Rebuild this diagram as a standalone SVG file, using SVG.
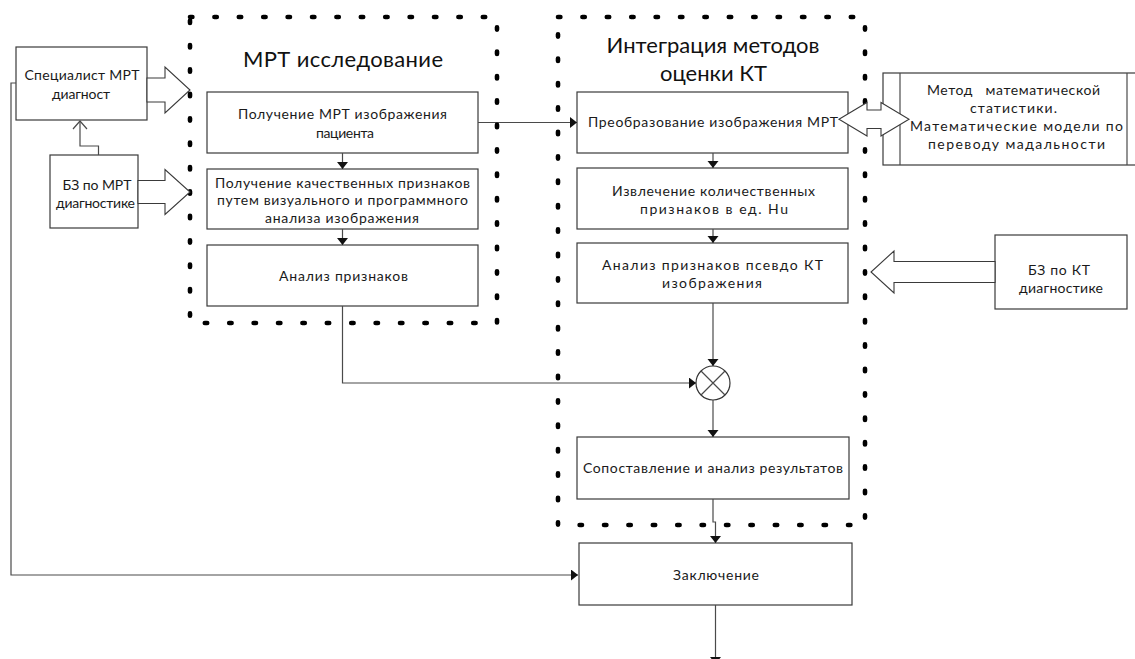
<svg xmlns="http://www.w3.org/2000/svg" width="1135" height="659" viewBox="0 0 1135 659">
<style>
text{font-family:Lato,"Liberation Sans",sans-serif;font-size:14px;font-weight:400;fill:#1a1a1a;text-anchor:middle}
.t{font-size:22px;fill:#111}
.box{fill:#fff;stroke:#3a3a3a;stroke-width:1.2}
.ln{fill:none;stroke:#4a4a4a;stroke-width:1.2}
.fr{fill:none;stroke:#000;stroke-width:4.6;stroke-linecap:round;stroke-dasharray:2.4 22}
.ba{fill:#fff;stroke:#3a3a3a;stroke-width:1.1;stroke-linejoin:miter}
</style>
<defs>
<marker id="ah" markerUnits="userSpaceOnUse" markerWidth="8" markerHeight="12" refX="7" refY="5.5" orient="auto">
<path d="M0,0 L7,5.5 L0,11 z" fill="#111"/>
</marker>
</defs>
<rect width="1135" height="659" fill="#fff"/>

<g id="spec">
<rect class="box" x="16" y="47" width="131" height="73"/>
<text x="82" y="79.5" textLength="115" lengthAdjust="spacing">Специалист МРТ</text>
<text x="81" y="98.5" textLength="58" lengthAdjust="spacing">диагност</text>
</g>
<g id="bz-mrt">
<rect class="box" x="50" y="155" width="88" height="73"/>
<text x="97" y="189.5" textLength="69" lengthAdjust="spacing">БЗ по МРТ</text>
<text x="95.5" y="208" textLength="79" lengthAdjust="spacing">диагностике</text>
</g>
<g id="mrt1">
<rect class="box" x="207" y="92" width="271" height="61"/>
<text x="342.5" y="118.5" textLength="209" lengthAdjust="spacing">Получение МРТ изображения</text>
<text x="345" y="137.5" textLength="58" lengthAdjust="spacing">пациента</text>
</g>
<g id="mrt2">
<rect class="box" x="207" y="169" width="271" height="60"/>
<text x="342.5" y="187.5" textLength="255" lengthAdjust="spacing">Получение качественных признаков</text>
<text x="342.5" y="205" textLength="251" lengthAdjust="spacing">путем визуального и программного</text>
<text x="342" y="222.5" textLength="154" lengthAdjust="spacing">анализа изображения</text>
</g>
<g id="mrt3">
<rect class="box" x="207" y="245" width="271" height="61"/>
<text x="343.5" y="280.5" textLength="129" lengthAdjust="spacing">Анализ признаков</text>
</g>
<g id="kt1">
<rect class="box" x="577" y="92" width="271" height="61"/>
<text x="713" y="127" textLength="250" lengthAdjust="spacing">Преобразование изображения МРТ</text>
</g>
<g id="kt2">
<rect class="box" x="577" y="168" width="271" height="61"/>
<text x="713.5" y="196" textLength="203" lengthAdjust="spacing">Извлечение количественных</text>
<text x="714" y="214" textLength="148" lengthAdjust="spacing">признаков в ед. Hu</text>
</g>
<g id="kt3">
<rect class="box" x="577" y="243" width="271" height="60"/>
<text x="712.5" y="270" textLength="221" lengthAdjust="spacing">Анализ признаков псевдо КТ</text>
<text x="712" y="288" textLength="100" lengthAdjust="spacing">изображения</text>
</g>
<g id="compare">
<rect class="box" x="577" y="437" width="272" height="62"/>
<text x="713" y="473" textLength="260" lengthAdjust="spacing">Сопоставление и анализ результатов</text>
</g>
<g id="conclusion">
<rect class="box" x="579" y="543" width="273" height="62"/>
<text x="716" y="580" textLength="86" lengthAdjust="spacing">Заключение</text>
</g>
<g id="method">
<rect class="box" x="883" y="73" width="262" height="92"/>
<line class="ln" x1="900" y1="73" x2="900" y2="165"/>
<line class="ln" x1="1127" y1="73" x2="1127" y2="165"/>
<text x="1013.5" y="95" textLength="173" lengthAdjust="spacing" xml:space="preserve">Метод   математической</text>
<text x="1013.5" y="113" textLength="87" lengthAdjust="spacing">статистики.</text>
<text x="1016.5" y="131" textLength="213" lengthAdjust="spacing">Математические модели по</text>
<text x="1016.5" y="149" textLength="177" lengthAdjust="spacing">переводу мадальности</text>
</g>
<g id="bz-kt">
<rect class="box" x="995" y="235" width="132" height="74"/>
<text x="1059" y="275" textLength="62" lengthAdjust="spacing">БЗ по КТ</text>
<text x="1061" y="293" textLength="84" lengthAdjust="spacing">диагностике</text>
</g>
<g id="sum">
<circle cx="713" cy="383" r="17" fill="#fff" stroke="#333" stroke-width="1.2"/>
<path class="ln" d="M701 371 L725 395 M725 371 L701 395"/>
</g>

<g id="connectors">
<path class="ln" d="M98.5 155 V146 H80 V121"/>
<path class="ln" d="M73 129 L80 121 L87 129"/>
<path class="ln" d="M16 83 H11 V575 H578" marker-end="url(#ah)"/>
<path class="ln" d="M342.5 153 V169" marker-end="url(#ah)"/>
<path class="ln" d="M342.5 229 V245" marker-end="url(#ah)"/>
<path class="ln" d="M478 122.5 H577" marker-end="url(#ah)"/>
<path class="ln" d="M713 153 V168" marker-end="url(#ah)"/>
<path class="ln" d="M713 229 V243" marker-end="url(#ah)"/>
<path class="ln" d="M342.5 306 V383 H696" marker-end="url(#ah)"/>
<path class="ln" d="M713 303 V366" marker-end="url(#ah)"/>
<path class="ln" d="M713 400 V437" marker-end="url(#ah)"/>
<path class="ln" d="M713 499 V522 H715.5 V543" marker-end="url(#ah)"/>
<path class="ln" d="M715.5 605 V664" marker-end="url(#ah)"/>
</g>

<g id="frame-mrt">
<rect class="fr" x="190" y="17" width="307" height="306"/>
<text class="t" x="343" y="67" textLength="200" lengthAdjust="spacing">МРТ исследование</text>
</g>
<g id="frame-kt">
<rect class="fr" x="558" y="17" width="307" height="508"/>
<text class="t" x="713" y="53" textLength="213" lengthAdjust="spacing">Интеграция методов</text>
<text class="t" x="713.5" y="81" textLength="107" lengthAdjust="spacing">оценки КТ</text>
</g>

<g id="block-arrows">
<polygon class="ba" points="147,78 165,78 165,67 190,90 165,113 165,102 147,102"/>
<polygon class="ba" points="138,180.5 165,180.5 165,169.5 190,192 165,214.5 165,203.5 138,203.5"/>
<polygon class="ba" points="995,261.5 894,261.5 894,251 871,272 894,293 894,282.5 995,282.5"/>
<polygon class="ba" points="839,119.3 867,102.5 867,110 881,110 881,102.5 909,119.3 881,136 881,128.5 867,128.5 867,136"/>
</g>
</svg>
